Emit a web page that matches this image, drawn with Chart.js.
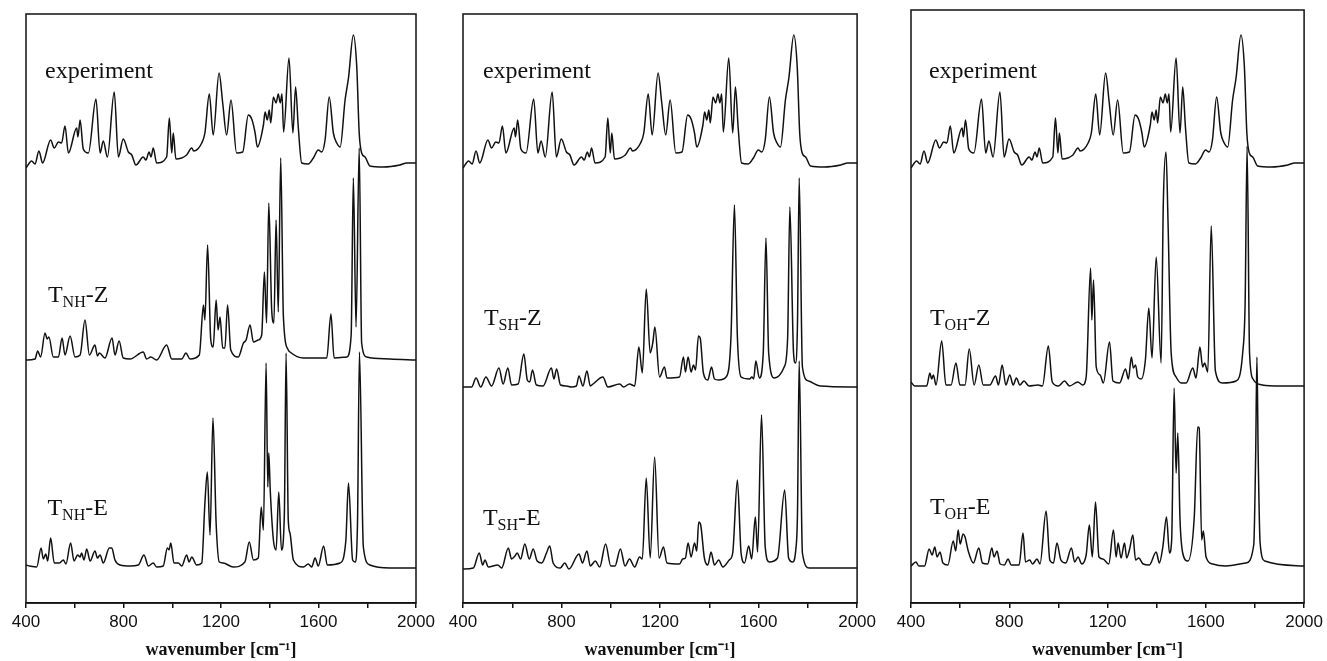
<!DOCTYPE html>
<html>
<head>
<meta charset="UTF-8">
<title>IR spectra: experiment vs. T-NH / T-SH / T-OH</title>
<script src="https://cdn.jsdelivr.net/npm/chart.js"></script>
<style>
body {margin:0; background:#fff; width:1327px; height:661px; overflow:hidden; position:relative}
.panel {position:absolute; top:0; height:661px}
</style>
</head>
<body>
<div class="panel" style="left:0;width:440px"><canvas id="p1" width="440" height="661"></canvas></div>
<div class="panel" style="left:440px;width:440px"><canvas id="p2" width="440" height="661"></canvas></div>
<div class="panel" style="left:880px;width:447px"><canvas id="p3" width="447" height="661"></canvas></div>

<script>
// wavenumber axis
const tickLabels = [400, 800, 1200, 1600, 2000];
const axisTitle = 'wavenumber [cm\u207B\u00B9]';

// spectra: [wavenumber, intensity (arb. units, traces stacked)]
const experiment = [[400,435],[423,442],[437,439],[453,452],[468,440],[501,463],[516,455],[533,461],[546,460],[560,477],[574,450],[608,475],[613,466],[622,483],[635,454],[656,450],[687,504],[704,450],[717,462],[734,446],[762,511],[779,446],[799,464],[820,451],[834,448],[851,438],[881,446],[892,443],[905,451],[913,446],[922,455],[936,440],[977,446],[988,485],[998,450],[1004,470],[1015,444],[1059,448],[1080,455],[1088,452],[1121,460],[1134,470],[1152,509],[1168,468],[1192,530],[1207,500],[1223,468],[1241,503],[1264,450],[1289,451],[1312,488],[1326,484],[1340,470],[1349,456],[1374,478],[1381,491],[1390,483],[1398,493],[1404,480],[1415,506],[1426,500],[1435,509],[1443,500],[1450,509],[1457,471],[1479,545],[1495,470],[1506,516],[1517,476],[1531,440],[1558,439],[1579,445],[1599,453],[1613,451],[1627,463],[1644,506],[1661,470],[1675,460],[1689,456],[1709,503],[1723,525],[1743,568],[1757,536],[1767,470],[1777,450],[1791,446],[1811,437],[1866,436],[1934,438],[1962,440],[2000,440]];

const tnhZ = [[400,243],[437,244],[448,252],[460,246],[478,270],[487,264],[494,266],[512,246],[533,246],[548,265],[560,248],[581,267],[601,246],[622,248],[642,283],[660,248],[683,258],[693,247],[701,250],[724,245],[753,265],[765,248],[782,262],[799,245],[827,244],[881,251],[895,244],[912,246],[936,243],[977,258],[998,244],[1039,244],[1056,250],[1073,244],[1111,248],[1128,298],[1134,283],[1145,358],[1158,263],[1168,256],[1180,303],[1188,273],[1196,286],[1207,255],[1216,255],[1227,298],[1240,253],[1271,246],[1292,260],[1303,263],[1319,278],[1333,261],[1353,263],[1367,268],[1378,331],[1387,280],[1396,400],[1408,293],[1417,280],[1426,383],[1435,291],[1445,445],[1456,286],[1476,253],[1483,251],[1538,245],[1586,245],[1634,245],[1651,289],[1664,245],[1716,246],[1734,268],[1743,425],[1754,276],[1767,455],[1777,260],[1798,246],[1893,244],[2000,243]];

const tnhE = [[400,38],[416,37],[444,36],[462,55],[471,44],[481,49],[489,42],[501,65],[516,40],[537,40],[553,43],[564,39],[583,60],[597,42],[612,48],[622,46],[628,50],[638,43],[649,54],[663,42],[683,52],[693,45],[704,48],[717,40],[742,55],[752,55],[765,43],[786,38],[827,37],[861,38],[884,48],[902,37],[922,40],[936,36],[963,37],[980,55],[987,53],[994,60],[1007,40],[1025,40],[1039,37],[1059,48],[1069,41],[1080,46],[1100,38],[1121,40],[1134,100],[1144,131],[1155,68],[1167,185],[1180,80],[1193,41],[1209,40],[1250,36],[1298,41],[1316,61],[1333,43],[1353,45],[1365,96],[1374,73],[1385,240],[1392,116],[1396,150],[1402,113],[1415,63],[1426,53],[1437,111],[1448,53],[1460,90],[1467,250],[1476,83],[1483,70],[1497,43],[1538,36],[1558,39],[1572,36],[1586,45],[1599,37],[1621,57],[1636,38],[1688,40],[1712,62],[1723,120],[1740,43],[1750,41],[1760,80],[1768,251],[1784,56],[1811,38],[1893,35],[2000,35]];

const tshZ = [[400,216],[435,216],[453,225],[472,216],[493,226],[516,217],[546,235],[563,219],[582,235],[597,218],[624,219],[647,249],[661,223],[671,221],[682,233],[698,218],[725,217],[759,235],[769,224],[780,234],[796,218],[820,217],[840,216],[860,217],[871,227],[887,217],[903,232],[917,217],[928,219],[968,226],[988,216],[1036,219],[1052,216],[1076,219],[1097,217],[1114,256],[1128,230],[1144,314],[1160,250],[1171,261],[1179,276],[1198,226],[1218,236],[1228,225],[1279,226],[1295,246],[1303,231],[1314,246],[1326,231],[1336,238],[1344,233],[1356,267],[1363,265],[1376,230],[1394,223],[1409,236],[1421,224],[1438,223],[1468,226],[1488,266],[1502,398],[1514,266],[1529,226],[1563,224],[1573,226],[1580,224],[1589,242],[1603,225],[1619,250],[1630,365],[1641,250],[1664,225],[1704,236],[1718,265],[1727,396],[1742,250],[1750,240],[1758,280],[1765,425],[1778,236],[1803,222],[1850,217],[2000,216]];

const tshE = [[400,34],[442,35],[466,50],[480,38],[489,43],[503,36],[541,38],[557,35],[584,55],[597,44],[611,47],[620,50],[634,44],[651,59],[669,44],[685,54],[701,42],[720,40],[739,50],[752,57],[766,40],[795,35],[813,40],[830,34],[871,49],[885,40],[903,52],[917,37],[937,42],[955,36],[979,59],[1000,37],[1017,37],[1039,54],[1058,37],[1076,44],[1097,36],[1117,46],[1128,44],[1144,125],[1160,45],[1178,146],[1196,45],[1214,56],[1228,40],[1279,39],[1292,44],[1303,45],[1314,60],[1326,46],[1340,60],[1349,52],[1357,81],[1365,78],[1380,45],[1394,38],[1407,51],[1421,38],[1438,43],[1455,36],[1481,43],[1495,50],[1514,123],[1529,50],[1543,40],[1560,57],[1572,44],[1587,86],[1596,51],[1612,188],[1627,56],[1643,41],[1677,45],[1706,113],[1722,45],[1738,41],[1751,53],[1758,90],[1765,242],[1778,50],[1806,35],[2000,35]];

const tohZ = [[400,221],[415,217],[464,217],[477,230],[484,224],[491,228],[502,218],[525,262],[542,218],[563,218],[583,240],[599,218],[620,218],[637,254],[657,218],[676,238],[694,218],[721,218],[744,227],[756,218],[771,238],[786,218],[802,228],[816,218],[829,225],[843,218],[860,222],[880,217],[917,218],[935,217],[959,257],[975,221],[1000,217],[1025,222],[1045,217],[1079,221],[1099,218],[1113,226],[1131,335],[1136,283],[1143,323],[1154,236],[1170,228],[1183,220],[1208,261],[1222,222],[1249,220],[1273,234],[1285,224],[1297,246],[1305,235],[1314,238],[1323,226],[1337,224],[1354,243],[1368,295],[1381,245],[1398,346],[1418,240],[1427,400],[1438,451],[1446,383],[1459,250],[1479,226],[1500,220],[1520,220],[1547,235],[1560,225],[1576,256],[1587,236],[1595,240],[1608,231],[1622,377],[1639,232],[1668,220],[1723,222],[1750,250],[1760,300],[1768,457],[1778,250],[1792,224],[1830,218],[1900,217],[2000,217]];

const tohE = [[400,37],[420,41],[432,37],[455,37],[474,54],[486,48],[497,56],[506,46],[518,51],[530,40],[550,38],[572,62],[582,52],[592,73],[600,59],[612,69],[620,66],[633,52],[654,40],[676,55],[691,40],[712,39],[729,55],[738,46],[750,52],[763,39],[780,38],[795,44],[808,38],[840,38],[856,70],[866,41],[883,43],[895,39],[913,44],[925,39],[950,92],[965,43],[980,40],[994,60],[1010,43],[1030,40],[1053,55],[1066,41],[1080,46],[1095,39],[1113,48],[1126,78],[1138,46],[1151,101],[1165,46],[1181,44],[1205,39],[1224,73],[1235,46],[1243,60],[1255,45],[1269,60],[1278,45],[1289,53],[1303,68],[1314,43],[1327,45],[1345,39],[1370,38],[1398,51],[1411,40],[1425,56],[1440,86],[1452,50],[1461,63],[1471,215],[1479,130],[1486,170],[1495,83],[1506,50],[1527,42],[1553,86],[1567,176],[1573,175],[1583,63],[1590,72],[1601,46],[1628,39],[1682,37],[1763,40],[1795,58],[1803,150],[1808,246],[1813,150],[1821,60],[1840,42],[2000,37]];

// box outline + trace names
const panelDecor = {
  id: 'panelDecor',
  afterDraw(chart, args, opts) {
    const {ctx, chartArea: a, scales} = chart;
    ctx.save();
    ctx.strokeStyle = '#111';
    ctx.lineWidth = 1.5;
    ctx.strokeRect(a.left, a.top, a.right - a.left, a.bottom - a.top);
    ctx.fillStyle = '#111';
    ctx.textBaseline = 'middle';
    for (const l of opts.labels) {
      let x = scales.x.getPixelForValue(l.x);
      const y = scales.y.getPixelForValue(l.y);
      ctx.font = '24px "Liberation Serif"';
      ctx.fillText(l.main, x, y);
      if (!l.sub) continue;
      x += ctx.measureText(l.main).width;
      ctx.font = '16px "Liberation Serif"';
      ctx.fillText(l.sub, x, y + 7);
      x += ctx.measureText(l.sub).width;
      ctx.font = '24px "Liberation Serif"';
      ctx.fillText(l.tail, x, y);
    }
    ctx.restore();
  }
};

function trace(points) {
  return {
    data: points.map(p => ({x: p[0], y: p[1]})),
    borderColor: '#111',
    borderWidth: 1.5,
    pointRadius: 0,
    fill: false,
    cubicInterpolationMode: 'monotone'
  };
}

function makePanel(id, series, labels, pad, yMax) {
  new Chart(document.getElementById(id), {
    type: 'line',
    data: {datasets: series.map(trace)},
    plugins: [panelDecor],
    options: {
      responsive: false,
      animation: false,
      devicePixelRatio: 1,
      layout: {padding: pad},
      plugins: {legend: {display: false}, tooltip: {enabled: false}, panelDecor: {labels: labels}},
      scales: {
        x: {
          type: 'linear', min: 400, max: 2000,
          ticks: {
            stepSize: 200, autoSkip: false, maxRotation: 0, padding: 4,
            color: '#111', font: {family: 'Liberation Sans', size: 17},
            callback: v => tickLabels.includes(v) ? String(v) : ''
          },
          grid: {drawOnChartArea: false, drawTicks: true, tickLength: 5, color: '#111', lineWidth: 1.5},
          border: {display: true, color: '#111', width: 1.5},
          title: {
            display: true, text: axisTitle, color: '#111',
            font: {family: 'Liberation Serif', size: 18, weight: 'bold'},
            padding: {top: 0, bottom: 0}
          },
          afterFit: s => { s.height = 58; }
        },
        y: {display: false, min: 0, max: yMax}
      }
    }
  });
}

makePanel('p1', [experiment, tnhZ, tnhE], [
  {x: 478, y: 531, main: 'experiment'},
  {x: 490, y: 307, main: 'T', sub: 'NH', tail: '-Z'},
  {x: 488, y: 94, main: 'T', sub: 'NH', tail: '-E'}
], {left: 26, right: 24, top: 14, bottom: 0}, 589);

makePanel('p2', [experiment, tshZ, tshE], [
  {x: 481, y: 531, main: 'experiment'},
  {x: 485, y: 284, main: 'T', sub: 'SH', tail: '-Z'},
  {x: 481, y: 84, main: 'T', sub: 'SH', tail: '-E'}
], {left: 23, right: 22, top: 14, bottom: 0}, 589);

makePanel('p3', [experiment, tohZ, tohE], [
  {x: 473, y: 531, main: 'experiment'},
  {x: 477, y: 284, main: 'T', sub: 'OH', tail: '-Z'},
  {x: 477, y: 95, main: 'T', sub: 'OH', tail: '-E'}
], {left: 31, right: 22, top: 10, bottom: 0}, 593);
</script>
</body>
</html>
